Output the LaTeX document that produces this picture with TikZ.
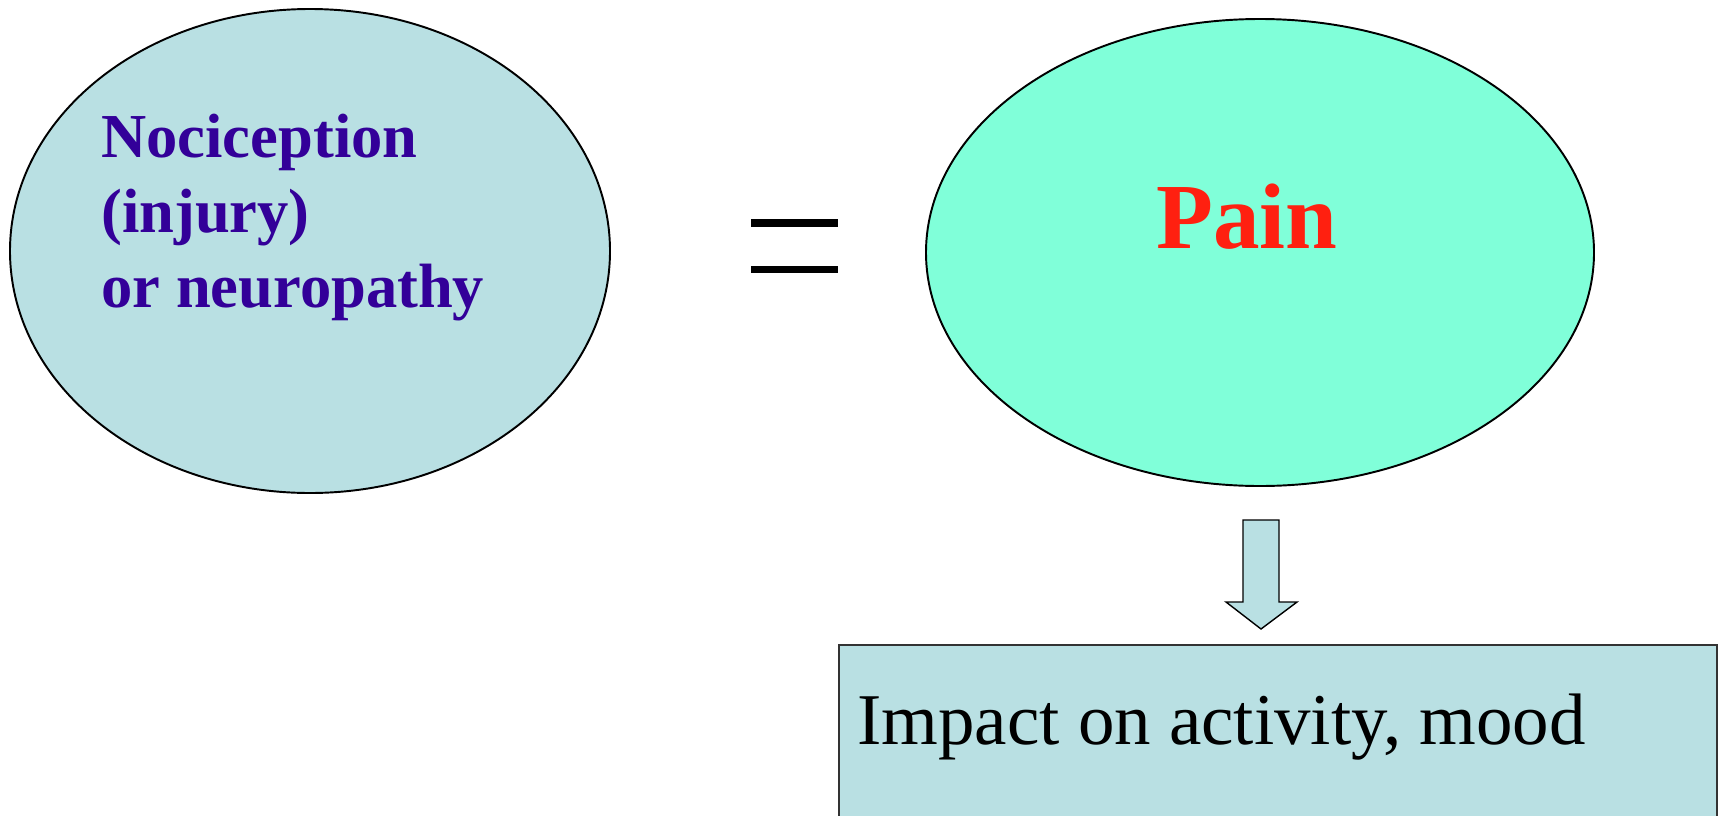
\documentclass[tikz,border=0pt]{standalone}
\usepackage{fontspec}
\setmainfont{Liberation Serif}
\usetikzlibrary{positioning}
\definecolor{nocifill}{RGB}{185,224,227}
\definecolor{painfill}{RGB}{128,255,217}
\definecolor{nociblue}{RGB}{51,0,153}
\definecolor{painred}{RGB}{255,32,16}

\begin{document}
\begin{tikzpicture}[x=0.02cm,y=-0.02cm]
 \tikzstyle{blob} = [draw=black,line width=1.1pt]
 \tikzstyle{boxed} = [draw=black!80,line width=1.1pt,fill=nocifill]
 \newcommand{\bigtext}{\fontsize{35.6}{42.6}\selectfont\bfseries}

 \useasboundingbox (0,0) rectangle (1720,815);

% Ellipses
 \draw[blob,fill=nocifill] (310,251) ellipse [x radius=300,y radius=242];
 \draw[blob,fill=painfill] (1260,252.5) ellipse [x radius=334,y radius=233.5];

% base is the last line here
 \node[anchor=base west,inner sep=0,align=left,text=nociblue,font=\bigtext] (noci) at (101,307)
   {Nociception\\(injury)\\or neuropathy};
 \node[anchor=base,inner sep=0,text=painred,font=\fontsize{53}{60}\selectfont\bfseries] (pain) at (1247,248) {Pain};

% Equals sign
 \fill (751,219) rectangle (838,227);
 \fill (751,266) rectangle (838,273);

% Block arrow down
 \draw[line width=0.8pt,fill=nocifill] (1243,520) -- (1279,520) -- (1279,602) -- (1297,602)
   -- (1261,629) -- (1226,602) -- (1243,602) -- cycle;

% Impact box
 \draw[boxed] (839,645) rectangle (1717,840);
 \node[anchor=base west,inner sep=0,font=\fontsize{41.5}{48}\selectfont] (impact) at (857,744)
   {Impact on activity, mood};
\end{tikzpicture}
\end{document}
